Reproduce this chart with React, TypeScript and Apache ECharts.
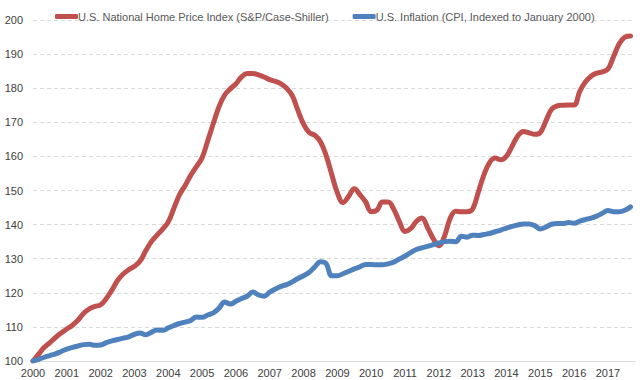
import React, { useEffect, useRef } from "react";
import * as echarts from "echarts";

// Bimonthly readings, starting January 2000 (one value every two months)
const startYear = 2000;
const stepYears = 2 / 12;

const homePriceIndex = [
  100.0, 102.0, 104.0, 105.4, 106.9, 108.2,
  109.4, 110.5, 112.0, 114.0, 115.3, 116.0,
  116.5, 118.3, 120.8, 123.6, 125.5, 126.8,
  127.8, 129.3, 132.3, 135.0, 136.9, 138.7,
  140.8, 144.8, 148.8, 151.5, 154.5, 157.0,
  159.6, 164.6, 169.7, 174.6, 178.0, 179.8,
  181.3, 183.3, 184.3, 184.3, 183.9, 183.3,
  182.5, 182.0, 181.3, 180.0, 177.8, 173.5,
  169.5, 167.0, 166.2, 164.3, 160.3, 154.7,
  149.3, 146.5, 148.3, 150.5, 148.8, 146.7,
  143.8, 144.2, 146.6, 146.6, 144.5, 140.9,
  138.0, 138.8, 140.9, 141.9, 139.1, 135.9,
  133.8, 136.6, 141.8, 143.9, 143.8, 143.8,
  144.6, 149.5, 154.6, 158.2, 159.5, 159.0,
  160.1, 163.0, 166.0, 167.3, 166.9, 166.5,
  167.0, 170.4, 173.8, 174.8, 175.0, 175.1,
  175.1, 179.1, 181.8, 183.5, 184.4, 184.8,
  185.6, 189.3, 193.0, 195.0, 195.3,
];

const inflationIndex = [
  100.0, 100.5, 101.1, 101.6, 102.1, 102.8,
  103.5, 104.0, 104.4, 104.8, 104.9, 104.6,
  104.7, 105.4, 105.9, 106.3, 106.7, 107.1,
  107.8, 108.2, 107.7, 108.4, 109.1, 109.0,
  109.7, 110.4, 111.0, 111.4, 111.9, 112.9,
  112.8, 113.5, 114.1, 115.5, 117.3, 116.7,
  117.5, 118.3, 119.0, 120.2, 119.4, 119.0,
  120.2, 121.1, 121.9, 122.4, 123.2, 124.2,
  125.0, 126.0, 127.6, 129.1, 128.6, 125.0,
  125.0, 125.6, 126.3, 127.0, 127.6, 128.3,
  128.3, 128.2, 128.2, 128.5, 129.0, 129.9,
  130.8, 131.8, 132.7, 133.2, 133.6, 134.1,
  134.6, 135.0, 135.1, 135.0, 136.6, 136.3,
  136.9, 136.8, 137.1, 137.4, 137.9, 138.4,
  139.0, 139.5, 139.9, 140.2, 140.2, 139.7,
  138.7, 139.3, 140.1, 140.3, 140.3, 140.6,
  140.4, 141.0, 141.5, 141.9, 142.5, 143.3,
  144.1, 143.8, 143.8, 144.2, 145.2,
];

const seriesNames = [
  "U.S. National Home Price Index (S&P/Case-Shiller)",
  "U.S. Inflation (CPI, Indexed to January 2000)",
];

const toPairs = (values: number[]) =>
  values.map((v, i) => [startYear + i * stepYears, v]);

export default function App() {
  const ref = useRef<HTMLDivElement>(null);
  useEffect(() => {
    if (!ref.current) return;
    const chart = echarts.init(ref.current, null, { renderer: "svg" });
    const font = "'Liberation Sans', Arial, sans-serif";
    chart.setOption({
      animation: false,
      backgroundColor: "#ffffff",
      textStyle: { fontFamily: font },
      legend: {
        left: 50,
        top: 6,
        itemGap: 24,
        itemWidth: 23,
        itemHeight: 5,
        icon: "roundRect",
        textStyle: {
          color: "#595959",
          fontSize: 11,
          fontFamily: font,
          padding: [0, 0, 0, -5],
        },
        data: seriesNames,
      },
      grid: { left: 33, right: 5, top: 20, bottom: 19 },
      xAxis: {
        type: "value",
        min: 2000,
        max: 2017.8,
        interval: 1,
        axisLine: { show: true, lineStyle: { color: "#d9d9d9", width: 1 } },
        axisTick: { show: false },
        splitLine: { show: false },
        axisLabel: {
          color: "#404040",
          fontSize: 11,
          fontFamily: font,
          margin: 6,
          showMaxLabel: false,
          formatter: (v: number) => (Number.isInteger(v) ? String(v) : ""),
        },
      },
      yAxis: {
        type: "value",
        min: 100,
        max: 200,
        interval: 10,
        axisLine: { show: false },
        axisTick: { show: false },
        splitLine: {
          show: true,
          lineStyle: { color: "#d9d9d9", type: [4, 3], width: 1 },
        },
        axisLabel: {
          color: "#404040",
          fontSize: 11,
          fontFamily: font,
          margin: 10,
        },
      },
      series: [
        {
          name: seriesNames[0],
          type: "line",
          data: toPairs(homePriceIndex),
          showSymbol: false,
          smooth: 0.4,
          color: "#c0504d",
          lineStyle: { color: "#c0504d", width: 5, cap: "round", join: "round" },
          z: 2,
        },
        {
          name: seriesNames[1],
          type: "line",
          data: toPairs(inflationIndex),
          showSymbol: false,
          smooth: 0.4,
          color: "#4f81bd",
          lineStyle: { color: "#4f81bd", width: 5, cap: "round", join: "round" },
          z: 3,
        },
      ],
    });
    return () => chart.dispose();
  }, []);
  return (
    <div
      ref={ref}
      style={{ position: "fixed", left: 0, top: 0, width: 640, height: 380 }}
    />
  );
}
